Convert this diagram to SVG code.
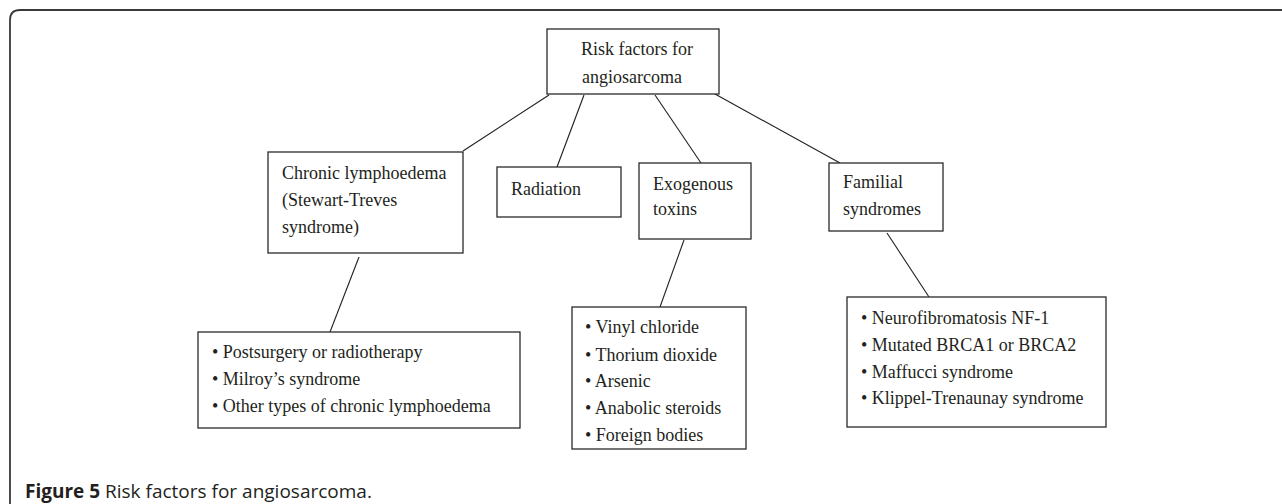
<svg xmlns="http://www.w3.org/2000/svg" width="1282" height="504" viewBox="0 0 1282 504">
<style>
.box{fill:#fff;stroke:#2a2a2a;stroke-width:1.3}
.t{font-family:"Liberation Serif","Times New Roman",serif;font-size:18px;fill:#231f20}
.c{stroke:#231f20;stroke-width:1.1;fill:none}
.cap{font-family:"Open Sans","Liberation Sans",sans-serif;font-size:19px;fill:#231f20}
</style>
<rect width="1282" height="504" fill="#fff"/>
<path d="M10,504 V20 Q10,10 20,10 H1282" fill="none" stroke="#3a3a3a" stroke-width="1.8"/>
<g id="connectors">
<line class="c" x1="549" y1="95" x2="463" y2="151"/>
<line class="c" x1="584" y1="95" x2="557" y2="167"/>
<line class="c" x1="655" y1="95" x2="701" y2="163"/>
<line class="c" x1="715" y1="94" x2="840" y2="163"/>
<line class="c" x1="359" y1="257" x2="330" y2="332"/>
<line class="c" x1="684" y1="240" x2="660" y2="307"/>
<line class="c" x1="887" y1="233" x2="929" y2="297"/>
</g>
<g id="root">
<rect class="box" x="547" y="29" width="172" height="65"/>
<text class="t" x="581" y="55">Risk factors for</text>
<text class="t" x="582" y="83">angiosarcoma</text>
</g>
<g id="chronic">
<rect class="box" x="268" y="152" width="195" height="101"/>
<text class="t" x="282" y="179">Chronic lymphoedema</text>
<text class="t" x="282" y="206">(Stewart-Treves</text>
<text class="t" x="282" y="233">syndrome)</text>
</g>
<g id="radiation">
<rect class="box" x="497" y="167" width="124" height="50"/>
<text class="t" x="511" y="195">Radiation</text>
</g>
<g id="exogenous">
<rect class="box" x="639" y="163" width="112" height="76"/>
<text class="t" x="653" y="190">Exogenous</text>
<text class="t" x="653" y="215">toxins</text>
</g>
<g id="familial">
<rect class="box" x="829" y="163" width="114" height="68"/>
<text class="t" x="843" y="188">Familial</text>
<text class="t" x="843" y="215">syndromes</text>
</g>
<g id="chronic-list">
<rect class="box" x="198" y="332" width="322" height="96"/>
<text class="t" x="212" y="358">• Postsurgery or radiotherapy</text>
<text class="t" x="212" y="385">• Milroy’s syndrome</text>
<text class="t" x="212" y="412">• Other types of chronic lymphoedema</text>
</g>
<g id="toxins-list">
<rect class="box" x="572" y="307" width="174" height="142"/>
<text class="t" x="585" y="333">• Vinyl chloride</text>
<text class="t" x="585" y="361">• Thorium dioxide</text>
<text class="t" x="585" y="387">• Arsenic</text>
<text class="t" x="585" y="414">• Anabolic steroids</text>
<text class="t" x="585" y="441">• Foreign bodies</text>
</g>
<g id="familial-list">
<rect class="box" x="847" y="297" width="259" height="130"/>
<text class="t" x="861" y="324">• Neurofibromatosis NF-1</text>
<text class="t" x="861" y="351">• Mutated BRCA1 or BRCA2</text>
<text class="t" x="861" y="378">• Maffucci syndrome</text>
<text class="t" x="861" y="404">• Klippel-Trenaunay syndrome</text>
</g>
<text class="cap" x="25" y="498"><tspan font-weight="bold">Figure 5</tspan> Risk factors for angiosarcoma.</text>
</svg>
